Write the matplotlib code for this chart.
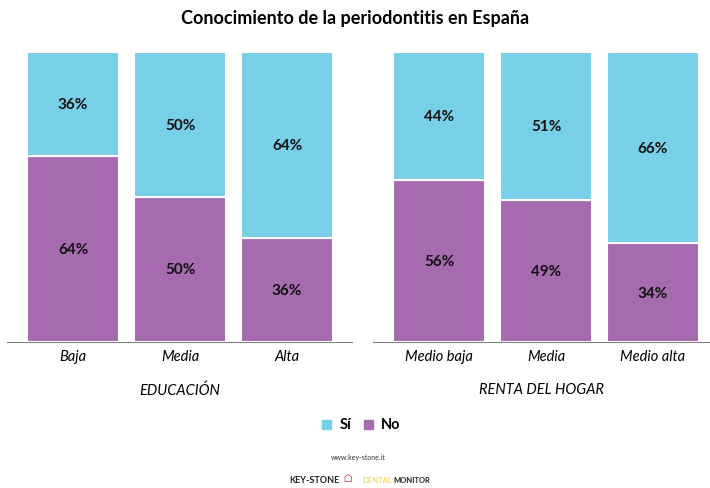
import matplotlib.pyplot as plt

plt.rcParams['font.family'] = ['Lato', 'DejaVu Sans']

educ_labels = ["Baja", "Media", "Alta"]
educ_si = [36, 50, 64]
educ_no = [64, 50, 36]

renta_labels = ["Medio baja", "Media", "Medio alta"]
renta_si = [44, 51, 66]
renta_no = [56, 49, 34]

col_si = "#78CFE8"
col_no = "#A66BAF"


def stacked(ax, labels, si, no, title, xlim):
    x = range(len(labels))
    ax.bar(x, no, width=0.86, color=col_no, edgecolor="white", linewidth=1.5)
    ax.bar(x, si, width=0.86, bottom=no, color=col_si, edgecolor="white", linewidth=1.5)
    for i in x:
        ax.text(i, no[i] / 2, f"{no[i]}%", ha="center", va="center",
                fontsize=11, fontweight="bold", color="#111111")
        ax.text(i, no[i] + si[i] / 2, f"{si[i]}%", ha="center", va="center",
                fontsize=11, fontweight="bold", color="#111111")
    ax.set_xlim(*xlim)
    ax.set_ylim(0, 100)
    ax.set_xticks(list(x))
    ax.set_xticklabels(labels, fontsize=10.5, fontstyle="italic")
    ax.tick_params(axis="x", length=0, pad=5)
    ax.set_yticks([])
    for s in ["top", "left", "right"]:
        ax.spines[s].set_visible(False)
    ax.spines["bottom"].set_color("#808080")
    ax.set_xlabel(title, fontsize=10.5, fontstyle="italic", labelpad=14)


fig = plt.figure(figsize=(7.1, 4.89), dpi=100)
ax1 = fig.add_axes([0.0099, 0.2986, 0.486, 0.593])
ax2 = fig.add_axes([0.5254, 0.2986, 0.4746, 0.593])

stacked(ax1, educ_labels, educ_si, educ_no, "EDUCACIÓN", (-0.617, 2.607))
stacked(ax2, renta_labels, renta_si, renta_no, "RENTA DEL HOGAR", (-0.617, 2.533))

fig.text(0.5, 0.962, "Conocimiento de la periodontitis en España",
         ha="center", va="center", fontsize=13, fontweight="bold")

# legend
fig.patches.append(plt.Rectangle((322 / 710, 1 - 430 / 489), 9 / 710, 9 / 489,
                                 transform=fig.transFigure, color=col_si))
fig.text(340 / 710, 1 - 425 / 489, "Sí", ha="left", va="center",
         fontsize=10.5, fontweight="bold")
fig.patches.append(plt.Rectangle((364 / 710, 1 - 430 / 489), 9 / 710, 9 / 489,
                                 transform=fig.transFigure, color=col_no))
fig.text(381 / 710, 1 - 425 / 489, "No", ha="left", va="center",
         fontsize=10.5, fontweight="bold")

# footer
fig.text(0.505, 1 - 458 / 489, "www.key-stone.it", ha="center", va="center",
         fontsize=5, color="#333333")
fig.text(340 / 710, 1 - 481 / 489, "KEY-STONE", ha="right", va="center",
         fontsize=6.5, fontweight="bold", color="#222222")
fig.text(343 / 710, 1 - 479 / 489, "⌂", ha="left", va="center",
         fontsize=8, color="#d04050")
fig.text(392 / 710, 1 - 481 / 489, "DENTAL", ha="right", va="center",
         fontsize=5.5, color="#f0d040")
fig.text(393 / 710, 1 - 481 / 489, "MONITOR", ha="left", va="center",
         fontsize=5.5, fontweight="bold", color="#222222")

fig.savefig("out.png", dpi=100)
